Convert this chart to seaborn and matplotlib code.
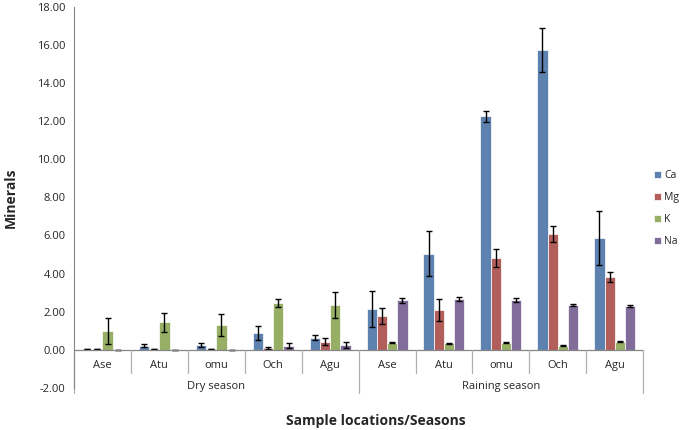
import numpy as np
import pandas as pd
import matplotlib
matplotlib.use('Agg')
import matplotlib.pyplot as plt
import seaborn as sns

# data
seasons = ['Dry season', 'Raining season']
locations = ['Ase', 'Atu', 'omu', 'Och', 'Agu']
minerals = ['Ca', 'Mg', 'K', 'Na']

ca = [0.02, 0.22, 0.25, 0.88, 0.62, 2.15, 5.05, 12.25, 15.75, 5.85]
mg = [0.02, 0.03, 0.03, 0.10, 0.42, 1.75, 2.10, 4.80, 6.08, 3.82]
k = [0.98, 1.45, 1.30, 2.45, 2.35, 0.38, 0.33, 0.38, 0.22, 0.43]
na = [0.01, 0.01, 0.01, 0.22, 0.25, 2.60, 2.67, 2.62, 2.35, 2.32]

ca_err = [0.0, 0.10, 0.10, 0.37, 0.13, 0.95, 1.17, 0.28, 1.15, 1.42]
mg_err = [0.0, 0.0, 0.0, 0.06, 0.18, 0.42, 0.58, 0.48, 0.42, 0.28]
k_err = [0.70, 0.50, 0.58, 0.20, 0.68, 0.05, 0.03, 0.03, 0.02, 0.04]
na_err = [0.0, 0.0, 0.0, 0.13, 0.15, 0.12, 0.12, 0.12, 0.03, 0.05]

colors = ['#4F81BD', '#C0504D', '#9BBB59', '#8064A2']

keys = [s + '|' + l for s in seasons for l in locations]
rows = []
for m, vals, errs in zip(minerals, [ca, mg, k, na], [ca_err, mg_err, k_err, na_err]):
    for key, v, e in zip(keys, vals, errs):
        rows.append({'site': key, 'mineral': m, 'value': v, 'err': e})
df = pd.DataFrame(rows)

sns.set_style('white')
plt.rcParams['font.family'] = ['Open Sans', 'DejaVu Sans']

fig = plt.figure(figsize=(6.85, 4.30), dpi=100)
ax = fig.add_axes([0.108, 0.098, 0.831, 0.886])

sns.barplot(data=df, x='site', y='value', hue='mineral', order=keys,
            hue_order=minerals, palette=colors, width=0.72,
            edgecolor='white', linewidth=0.5, errorbar=None, ax=ax)

# error bars at the centers of the drawn bars
for cont, m in zip(ax.containers, minerals):
    sub = df[df['mineral'] == m].set_index('site').loc[keys]
    xs = [p.get_x() + p.get_width() / 2 for p in cont.patches]
    ax.errorbar(xs, sub['value'], yerr=sub['err'], fmt='none', ecolor='black',
                elinewidth=1, capsize=2.5, capthick=1)

ax.set_ylim(-2, 18)
ax.set_xlim(-0.5, len(keys) - 0.5)
ax.set_yticks(np.arange(-2, 18.1, 2))
ax.set_yticklabels(['%.2f' % v for v in np.arange(-2, 18.1, 2)], fontsize=8)
ax.tick_params(axis='y', direction='out', length=4, color='#868686', pad=2)
ax.set_xticks([])
ax.set_xlabel('')
ax.set_ylabel('Minerals', fontsize=10, fontweight='bold', labelpad=14)

for side in ['top', 'right', 'bottom']:
    ax.spines[side].set_visible(False)
ax.spines['left'].set_color('#868686')
ax.axhline(0, color='#868686', linewidth=0.9)

# multi-level category axis
for i, key in enumerate(keys):
    ax.text(i, -0.8, key.split('|')[1], ha='center', va='center', fontsize=8)
    if i > 0 and i != len(locations):
        ax.plot([i - 0.5, i - 0.5], [0, -1.2], color='#b0b0b0', lw=0.9, clip_on=False)
for g in range(len(seasons) + 1):
    xb = g * len(locations) - 0.5
    ax.plot([xb, xb], [0, -2.25], color='#b0b0b0', lw=0.9, clip_on=False)
for g, s in enumerate(seasons):
    ax.text(g * len(locations) + (len(locations) - 1) / 2, -1.95, s,
            ha='center', va='center', fontsize=8)

fig.text(0.548, 0.022, 'Sample locations/Seasons', ha='center', va='center',
         fontsize=10, fontweight='bold')

ax.legend(loc='center left', bbox_to_anchor=(0.955, 0.515),
          bbox_transform=fig.transFigure, frameon=False, fontsize=7.5,
          handlelength=0.7, handleheight=0.7, handletextpad=0.25,
          labelspacing=1.05, borderpad=0, borderaxespad=0)

fig.savefig('out.png', dpi=100)
